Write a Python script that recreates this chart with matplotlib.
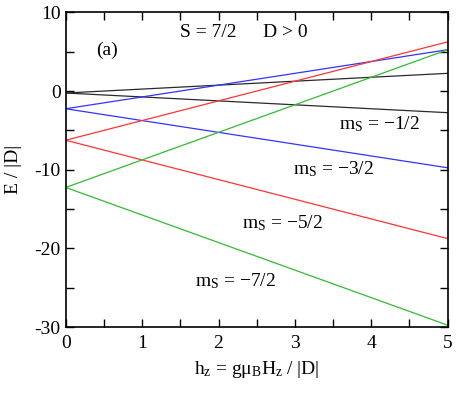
import matplotlib
matplotlib.use("Agg")
import matplotlib.pyplot as plt
from matplotlib.ticker import MultipleLocator

plt.rcParams['font.family'] = ['Liberation Serif', 'DejaVu Serif']
plt.rcParams['mathtext.fontset'] = 'custom'
plt.rcParams['mathtext.rm'] = 'Liberation Serif'
plt.rcParams['mathtext.it'] = 'Liberation Serif:italic'

# Field endpoints and level energies (E/|D|) at those endpoints
h_ends = [0, 5]
levels = {
    "+1/2": [-0.25, 2.25],
    "-1/2": [-0.25, -2.75],
    "+3/2": [-2.25, 5.25],
    "-3/2": [-2.25, -9.75],
    "+5/2": [-6.25, 6.25],
    "-5/2": [-6.25, -18.75],
    "+7/2": [-12.25, 5.25],
    "-7/2": [-12.25, -29.75],
}
colors = {"1/2": "#2a2a2a", "3/2": "#3333ff", "5/2": "#ff3333", "7/2": "#33bb33"}

fig = plt.figure(figsize=(4.57, 3.98), dpi=100)
ax = fig.add_axes([0.1438, 0.178, 0.8358, 0.791])

for name, vals in levels.items():
    ax.plot(h_ends, vals, color=colors[name[1:]], lw=0.9)

ax.set_xlim(0, 5)
ax.set_ylim(-30, 10)
ax.xaxis.set_major_locator(MultipleLocator(1))
ax.xaxis.set_minor_locator(MultipleLocator(0.5))
ax.yaxis.set_major_locator(MultipleLocator(10))
ax.yaxis.set_minor_locator(MultipleLocator(5))
ax.tick_params(which='both', direction='in', top=True, right=True, labelsize=14, width=1)
ax.tick_params(which='major', length=6)
ax.tick_params(which='minor', length=6)
ax.tick_params(axis='x', pad=6)
ax.set_yticks([-30, -20, -10, 0, 10])
ax.set_yticklabels(['-30', '-20', '-10', '0', '10'])
for s in ax.spines.values():
    s.set_linewidth(1.2)

fs = 14
ax.text(0.54, 5.2, "(a)", fontsize=fs, ha='center', va='center')
ax.text(1.5, 7.4, "S = 7/2", fontsize=fs, ha='left', va='center')
ax.text(2.58, 7.4, "D > 0", fontsize=fs, ha='left', va='center')
ax.text(3.58, -4.2, r"m$_\mathrm{S}$ = −1/2", fontsize=fs, ha='left', va='center')
ax.text(2.98, -9.9, r"m$_\mathrm{S}$ = −3/2", fontsize=fs, ha='left', va='center')
ax.text(2.31, -16.8, r"m$_\mathrm{S}$ = −5/2", fontsize=fs, ha='left', va='center')
ax.text(1.69, -24.1, r"m$_\mathrm{S}$ = −7/2", fontsize=fs, ha='left', va='center')

ax.set_xlabel(r"h$_\mathrm{z}$ = gμ$_\mathrm{B}$H$_\mathrm{z}$ / |D|", fontsize=fs, labelpad=5)
ax.set_ylabel("E / |D|", fontsize=fs, labelpad=9)

fig.savefig("out.png", dpi=100)
